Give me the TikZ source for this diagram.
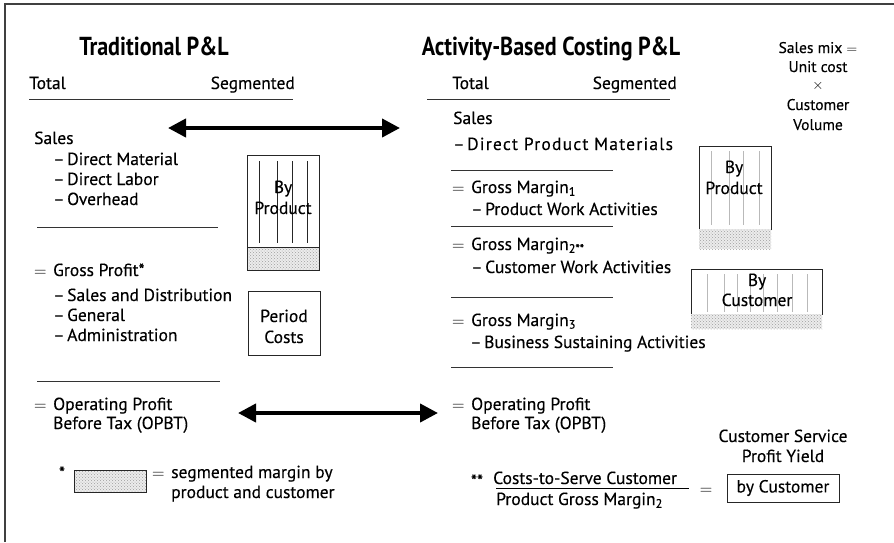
\documentclass[tikz,border=0pt]{standalone}
\usepackage{fontspec}
\setmainfont[FakeBold=0.3]{PT Sans}
\newfontfamily\titlefont[FakeStretch=0.85]{PT Sans}
\newfontfamily\widefont[LetterSpace=7,FakeBold=0.3]{PT Sans}
\usetikzlibrary{arrows.meta,patterns}
\tikzset{
  txt/.style={anchor=base west, inner sep=0pt, font=\fontsize{17.5}{20}\selectfont},
  ctxt/.style={anchor=base, inner sep=0pt, font=\fontsize{17.5}{20}\selectfont},
  mtxt/.style={anchor=base, inner sep=0pt, font=\fontsize{15.5}{18}\selectfont},
  ttl/.style={anchor=base, inner sep=0pt, font=\titlefont\bfseries\fontsize{26}{29}\selectfont},
  rulel/.style={line width=1pt, draw=black!80},
  dblarrow/.style={line width=4pt, {Triangle[length=18pt,width=18pt]}-{Triangle[length=18pt,width=18pt]}},
  boxw/.style={draw=black!85, line width=1pt, fill=white},
  hatch/.style={preaction={fill=gray!15}, pattern=crosshatch dots, pattern color=gray!75},
  vblack/.style={line width=1pt, draw=black!85},
  vgray/.style={line width=0.8pt, draw=gray!55},
}
\newcommand{\dsh}{\makebox[14pt][l]{–}}
\newcommand{\eqs}{\makebox[19pt][l]{$=$}}
\begin{document}
\begin{tikzpicture}[x=1pt,y=-1pt]
\useasboundingbox (0,0) rectangle (894,542);
% frame
\draw[line width=1.5pt, black!75] (5,542) -- (5,4) -- (894,4);

% titles
\node[ttl] (t1) at (154,55) {Traditional P\&L};
\node[ttl] (t2) at (551,55) {Activity-Based Costing P\&L};

% headers
\node[txt] (h1a) at (29,89) {Total};
\node[txt, anchor=base east] (h1b) at (295,89) {Segmented};
\draw[rulel] (29,99) -- (293,99);
\node[txt] (h2a) at (452,89) {Total};
\node[txt, anchor=base east] (h2b) at (677,89) {Segmented};
\draw[rulel] (427,99) -- (670,99);

% sales mix
\node[mtxt] (m1) at (818,53) {Sales mix $=$};
\node[mtxt] (m2) at (818,72) {Unit cost};
\node[mtxt] (m3) at (818,89) {$\times$};
\node[mtxt] (m4) at (818,110) {Customer};
\node[mtxt] (m5) at (818,130) {Volume};

% arrows
\coordinate (a1l) at (168,128);
\coordinate (a1r) at (400,128);
\draw[dblarrow] (a1l) -- (a1r);
\coordinate (a2l) at (238,413);
\coordinate (a2r) at (438,413);
\draw[dblarrow] (a2l) -- (a2r);

% left column
\node[txt] (l1) at (34,144) {Sales};
\node[txt] (l2) at (53,165) {\dsh Direct Material};
\node[txt] (l3) at (53,185) {\dsh Direct Labor};
\node[txt] (l4) at (53,205) {\dsh Overhead};
\draw[rulel] (37,227) -- (218,227);
\node[txt] (l5) at (34,276) {\eqs Gross Profit*};
\node[txt] (l6) at (53,301) {\dsh Sales and Distribution};
\node[txt] (l7) at (53,321) {\dsh General};
\node[txt] (l8) at (53,341) {\dsh Administration};
\draw[rulel] (37,381) -- (220,381);
\node[txt] (l9) at (34,410) {\eqs Operating Profit};
\node[txt] (l10) at (53,429) {Before Tax (OPBT)};

% left boxes
\draw[boxw] (247,155) rectangle (319,247);
\foreach \x in {259,277,292,307} \draw[vblack] (\x,161) -- (\x,243);
\draw[hatch, draw=black!85, line width=1pt] (247,247) rectangle (319,270);
\node[ctxt] (bp1) at (283,193) {By};
\node[ctxt] (bp2) at (283,214) {Product};
\draw[boxw] (248,291) rectangle (320,355);
\node[ctxt] (pc1) at (284,322) {Period};
\node[ctxt] (pc2) at (284,343) {Costs};

% legend
\node[ctxt] (star) at (62,479) {*};
\draw[hatch, draw=black!85, line width=1pt] (74,470) rectangle (146,492);
\node[txt] (lg1) at (152,478) {\eqs segmented margin by};
\node[txt] (lg2) at (171,498) {product and customer};

% right column
\node[txt] (r1) at (453,124) {Sales};
\node[txt] (r2) at (453,150) {\dsh\widefont Direct Product Materials};
\draw[rulel] (451,170) -- (613,170);
\node[txt] (r3) at (452,193) {\eqs Gross Margin\textsubscript{1}};
\node[txt] (r4) at (471,215) {\dsh Product Work Activities};
\draw[rulel] (451,226) -- (613,226);
\node[txt] (r5) at (452,250) {\eqs Gross Margin\textsubscript{2**}};
\node[txt] (r6) at (471,273) {\dsh Customer Work Activities};
\draw[rulel] (451,297) -- (613,297);
\node[txt] (r7) at (452,326) {\eqs Gross Margin\textsubscript{3}};
\node[txt] (r8) at (470,348) {\dsh Business Sustaining Activities};
\draw[rulel] (451,367) -- (613,367);
\node[txt] (r9) at (452,410) {\eqs Operating Profit};
\node[txt] (r10) at (471,429) {Before Tax (OPBT)};

% right boxes
\draw[boxw] (699,146) rectangle (771,229);
\foreach \x in {711,729,743,759} \draw[vgray] (\x,151) -- (\x,225);
\fill[hatch] (699,229) rectangle (771,249);
\node[ctxt] (rb1) at (734,173) {By};
\node[ctxt] (rb2) at (734,194) {Product};
\draw[boxw] (691,269) rectangle (822,314);
\foreach \x in {707,724,737,750,763,777,792,807} \draw[vgray] (\x,274) -- (\x,312);
\fill[hatch] (691,314) rectangle (822,329);
\node[ctxt] (rc1) at (757,286) {By};
\node[ctxt] (rc2) at (757,306) {Customer};

% bottom right formula
\node[ctxt] (cs1) at (783,442) {Customer Service};
\node[ctxt] (cs2) at (783,462) {Profit Yield};
\node[ctxt] (dstar) at (477,487) {**};
\node[txt] (num) at (493,484) {Costs-to-Serve Customer};
\draw[line width=1pt] (496,488) -- (689,488);
\node[txt] (den) at (496,505) {Product Gross Margin\textsubscript{2}};
\node[ctxt] (eq2) at (706,494) {$=$};
\node[draw=black!85, line width=1pt, minimum width=112pt, minimum height=28pt, inner sep=0pt, font=\fontsize{17.5}{20}\selectfont] (yield) at (783,488) {by Customer};
\end{tikzpicture}
\end{document}
